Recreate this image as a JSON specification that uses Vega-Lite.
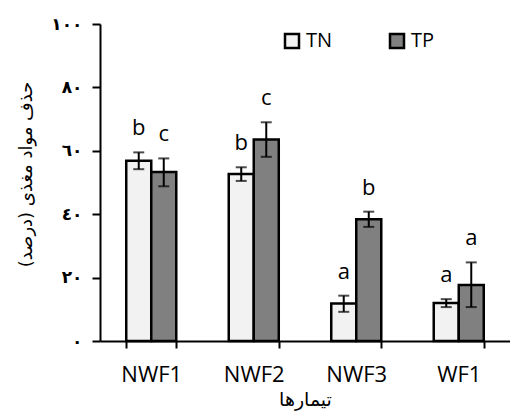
{
  "$schema": "https://vega.github.io/schema/vega-lite/v6.json",
  "width": 410,
  "height": 317,
  "autosize": {"type": "none"},
  "padding": {"left": 100, "top": 24, "right": 0, "bottom": 71},
  "background": "white",
  "config": {"view": {"stroke": null}, "font": "Open Sans"},
  "data": {
    "values": [
      {"treatment": "NWF1", "type": "TN", "value": 56.9, "lo": 54.2, "hi": 59.5, "letter": "b"},
      {"treatment": "NWF1", "type": "TP", "value": 53.3, "lo": 48.8, "hi": 57.6, "letter": "c"},
      {"treatment": "NWF2", "type": "TN", "value": 52.7, "lo": 50.5, "hi": 54.8, "letter": "b"},
      {"treatment": "NWF2", "type": "TP", "value": 63.6, "lo": 58.1, "hi": 69.0, "letter": "c"},
      {"treatment": "NWF3", "type": "TN", "value": 11.8, "lo": 9.2, "hi": 14.3, "letter": "a"},
      {"treatment": "NWF3", "type": "TP", "value": 38.4, "lo": 36.0, "hi": 40.8, "letter": "b"},
      {"treatment": "WF1", "type": "TN", "value": 12.0, "lo": 10.7, "hi": 13.2, "letter": "a"},
      {"treatment": "WF1", "type": "TP", "value": 17.7, "lo": 10.7, "hi": 24.8, "letter": "a"}
    ]
  },
  "encoding": {
    "x": {
      "field": "treatment", "type": "nominal", "sort": ["NWF1", "NWF2", "NWF3", "WF1"],
      "scale": {"paddingInner": 0.512, "paddingOuter": 0.256},
      "axis": {
        "title": "تیمارها", "titleFont": "DejaVu Sans", "titleFontSize": 19, "titleFontWeight": "normal",
        "titleColor": "black", "titlePadding": 5,
        "labelAngle": 0, "labelFontSize": 22, "labelColor": "black", "labelPadding": 16,
        "tickBand": "extent", "tickSize": 7, "tickColor": "black", "tickWidth": 2,
        "domainColor": "black", "domainWidth": 2, "grid": false
      }
    },
    "xOffset": {"field": "type", "type": "nominal", "scale": {"paddingInner": 0, "paddingOuter": 0}}
  },
  "layer": [
    {
      "mark": {"type": "bar", "stroke": "black", "strokeWidth": 2.5},
      "encoding": {
        "y": {
          "field": "value", "type": "quantitative",
          "scale": {"domain": [0, 100]},
          "axis": {
            "values": [0, 20, 40, 60, 80, 100],
            "labelExpr": "datum.value == 0 ? '٠' : datum.value == 20 ? '٢٠' : datum.value == 40 ? '٤٠' : datum.value == 60 ? '٦٠' : datum.value == 80 ? '٨٠' : '١٠٠'",
            "labelFont": "DejaVu Sans", "labelFontSize": 17, "labelFontWeight": "bold", "labelColor": "black",
            "labelPadding": 10, "tickSize": 8, "tickColor": "black", "tickWidth": 2,
            "domainColor": "black", "domainWidth": 2, "grid": false,
            "title": "حذف مواد مغذی (درصد)", "titleFont": "DejaVu Sans", "titleFontSize": 18,
            "titleFontWeight": "normal", "titleColor": "black",
            "titleX": -74, "titleY": 150, "titleAlign": "center", "titleBaseline": "middle"
          }
        },
        "fill": {
          "field": "type", "type": "nominal",
          "scale": {"domain": ["TN", "TP"], "range": ["#f2f2f2", "#808080"]},
          "legend": {
            "title": null, "orient": "none", "legendX": 182, "legendY": 7, "direction": "horizontal",
            "symbolType": "square", "symbolSize": 196, "symbolStrokeColor": "black", "symbolStrokeWidth": 2.5,
            "labelFontSize": 20, "labelColor": "black", "labelOffset": 4, "columnPadding": 52
          }
        }
      }
    },
    {
      "mark": {"type": "rule", "color": "black", "strokeWidth": 2},
      "encoding": {
        "y": {"field": "lo", "type": "quantitative"},
        "y2": {"field": "hi"}
      }
    },
    {
      "mark": {"type": "tick", "color": "black", "thickness": 2, "size": 11, "orient": "horizontal"},
      "encoding": {"y": {"field": "lo", "type": "quantitative"}}
    },
    {
      "mark": {"type": "tick", "color": "black", "thickness": 2, "size": 11, "orient": "horizontal"},
      "encoding": {"y": {"field": "hi", "type": "quantitative"}}
    },
    {
      "mark": {"type": "text", "baseline": "bottom", "dy": -12, "fontSize": 22, "color": "black"},
      "encoding": {
        "y": {"field": "hi", "type": "quantitative"},
        "text": {"field": "letter"}
      }
    }
  ]
}
